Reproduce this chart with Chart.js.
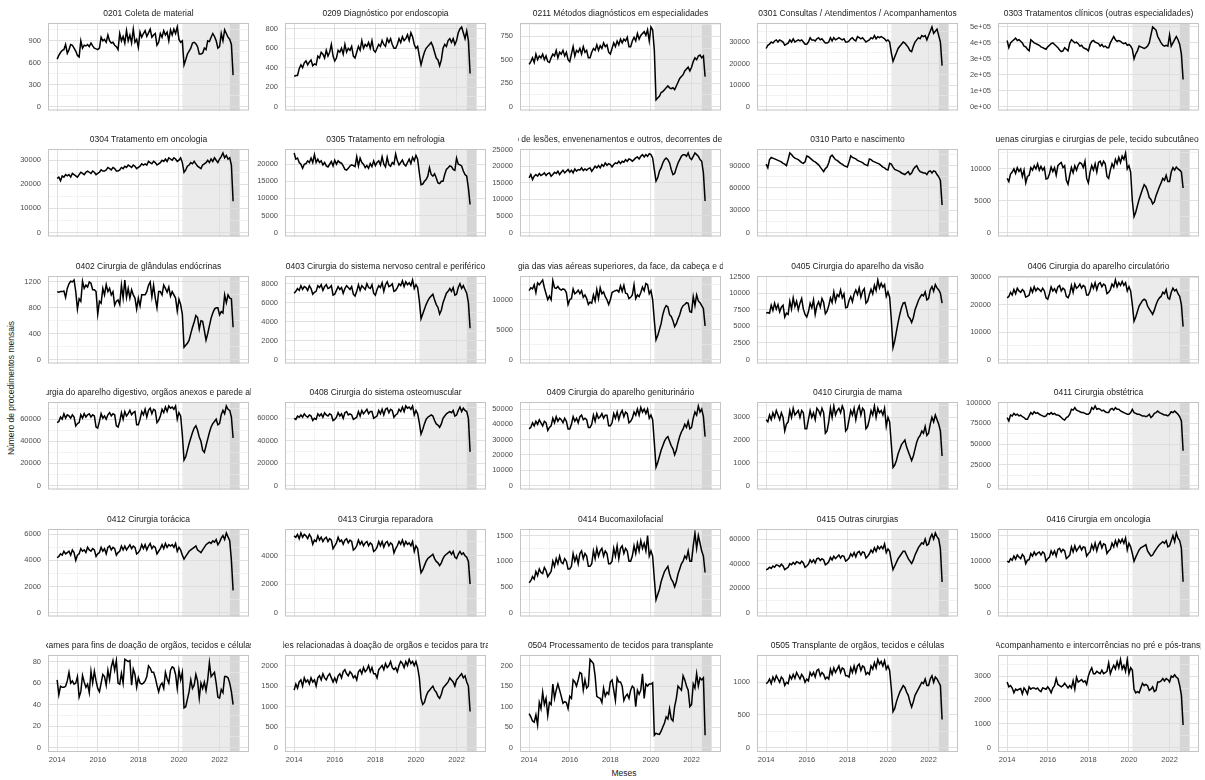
<!DOCTYPE html>
<html>
<head>
<meta charset="utf-8">
<script src="https://cdn.jsdelivr.net/npm/chart.js@4.4.1/dist/chart.umd.min.js"></script>
<style>
  body { margin: 0; width: 1205px; height: 780px; background: #fff; position: relative; overflow: hidden;
         font-family: "Liberation Sans", Arial, sans-serif; }
  .cell { position: absolute; }
  #ytitle { position: absolute; left: 11px; top: 388px; transform: translate(-50%, -50%) rotate(-90deg);
            font-size: 8.5px; color: #1a1a1a; white-space: nowrap; }
  #xtitle { position: absolute; left: 624px; top: 773px; transform: translate(-50%, -50%);
            font-size: 8.5px; color: #1a1a1a; white-space: nowrap; }
</style>
</head>
<body>
<div id="ytitle">Número de procedimentos mensais</div>
<div id="xtitle">Meses</div>
<script>
// monthly series, jan/2014 .. set/2022 (one row per year)
const s0201 = [
  650,700,740,770,780,850,730,780,850,840,800,760,
  700,680,900,800,840,830,850,820,870,830,800,790,
  780,800,950,900,920,880,980,900,870,880,840,820,
  780,1000,900,960,870,1040,900,980,870,1060,880,920,
  810,1020,950,1000,1040,960,1010,1060,950,980,1000,840,
  880,1000,950,1040,980,1020,900,1050,980,1060,1000,1090,
  920,880,900,570,640,720,760,800,870,880,860,820,
  720,720,730,800,780,900,890,950,1000,960,900,800,
  820,1000,900,1050,1000,950,920,850,430];
const s0209 = [
  310,320,320,390,430,400,450,470,430,460,480,420,
  440,430,520,500,560,540,500,580,520,560,640,520,
  470,500,580,560,600,540,640,560,600,580,620,520,
  500,560,620,580,680,600,640,620,660,600,680,580,
  560,600,640,620,680,640,620,700,660,700,640,600,
  600,640,700,660,720,680,700,740,680,760,720,640,
  600,620,520,430,500,560,600,620,640,660,620,560,
  500,480,420,480,600,640,620,680,700,660,700,640,
  680,760,800,820,760,700,780,680,340];
const s0211 = [
  450,480,520,470,560,500,540,520,560,500,540,480,
  470,520,560,540,600,520,580,560,600,540,580,500,
  480,560,640,540,600,580,620,560,640,580,600,520,
  520,580,620,600,660,600,650,620,680,640,660,580,
  560,620,680,640,700,660,720,680,720,700,740,640,
  640,700,740,700,780,720,760,780,800,760,820,700,
  850,820,600,70,90,110,150,160,180,200,220,200,
  190,200,180,220,260,300,320,340,380,400,420,380,
  420,480,520,500,540,550,520,540,320];
const s0301 = [
  27000,28500,29000,30000,29500,30500,31000,30000,31000,30500,30000,28500,
  29000,29500,31000,30000,31500,30000,30500,31000,30500,31000,30000,29000,
  29000,30000,32000,31000,31000,30500,31500,32000,31000,31500,30500,29500,
  29500,30000,32000,30500,32000,31000,31500,32000,31500,31000,31500,30000,
  30000,30500,31500,32000,31000,30500,32500,32000,31500,32000,31000,30000,
  30500,31000,32000,31500,33000,31500,32500,32000,32500,32000,31500,30500,
  31000,30000,25000,21000,23000,25000,27000,28000,29000,30000,29500,28500,
  27500,26000,25500,28000,30000,31000,32000,31500,33000,32500,33000,31000,
  33000,35000,37000,34000,35000,36000,33000,30000,19000];
const s0303 = [
  415000,370000,400000,410000,420000,430000,415000,420000,410000,400000,380000,375000,
  360000,350000,420000,410000,400000,395000,390000,385000,375000,370000,365000,360000,
  375000,385000,395000,400000,390000,380000,370000,355000,345000,350000,370000,360000,
  350000,400000,420000,410000,400000,405000,395000,380000,385000,370000,365000,360000,
  350000,390000,410000,415000,405000,400000,395000,380000,390000,375000,380000,370000,
  370000,400000,420000,440000,420000,410000,415000,410000,400000,395000,400000,385000,
  390000,380000,360000,300000,330000,350000,380000,375000,370000,365000,370000,380000,
  400000,450000,500000,490000,480000,440000,420000,400000,385000,380000,385000,380000,
  450000,380000,400000,420000,440000,420000,390000,330000,170000];
const s0304 = [
  22500,23000,21500,23500,23000,24000,23500,24000,23000,24500,24000,23500,
  23000,24000,25000,24500,24000,25000,25500,25000,24500,25500,25000,24000,
  24500,25000,26000,25500,25500,26000,27000,26500,26000,27000,26500,25500,
  25500,26000,27000,26500,27500,27000,28000,27500,27000,28000,27500,26500,
  27000,27500,28500,28000,28500,28000,29500,29000,28500,29500,29000,28000,
  28500,29000,30000,29500,30500,29500,31000,30500,30000,31000,30500,29500,
  30000,31000,29000,25000,26000,27500,28000,29000,28500,29500,28500,27500,
  27000,26500,28000,28500,29000,30000,29000,30500,29500,31000,30000,29000,
  30500,31500,33000,31000,32000,30500,31000,28000,13000];
const s0305 = [
  23300,21500,21800,20500,20000,18800,20000,20200,21000,20500,21800,20500,
  22800,20500,21500,20500,21000,19800,20500,19500,19200,20000,20800,19500,
  21200,20000,21000,20500,20300,19500,18500,18300,18800,19500,19800,19600,
  19300,22200,19500,21800,20500,20000,19000,19600,18800,20200,19300,21000,
  19600,20500,21000,19800,22200,20000,19200,22000,19800,19400,20500,20000,
  23000,21000,19800,20500,21200,20000,19500,20500,21500,20200,22000,21000,
  22600,21500,17500,14000,14200,15000,15500,16500,19000,17000,16500,17200,
  16000,14500,14300,15000,15000,17000,18500,19000,19500,19300,18500,18200,
  21800,20000,19800,19500,18000,17000,16500,13000,8200];
const s0308 = [
  16500,17500,16000,17000,17500,17000,17800,17200,17500,18000,17200,17800,
  18000,17000,17500,18200,17800,18500,17500,18200,18800,18000,18500,19000,
  18200,18800,18000,19200,18500,19000,18800,19500,18700,19200,18800,19300,
  19500,18500,19200,20000,19500,20200,19500,20500,20000,21000,20300,20800,
  20500,19800,20500,21000,20800,21500,20800,21500,21200,22000,21500,22200,
  22000,21500,22000,22500,22800,22200,23000,23500,22800,23500,23000,23800,
  23500,22500,19000,15500,16500,18500,19500,21000,22000,22500,22000,21000,
  19000,17500,17800,19500,21000,22000,23000,23500,23500,23000,24000,22500,
  22000,23000,24000,23500,23000,22000,21500,18000,9500];
const s0310 = [
  92000,87000,98000,101000,100000,99000,98000,97000,96000,95000,93000,92000,
  90000,98000,107000,105000,102000,100000,99000,98000,96000,94000,93000,95000,
  103000,102000,100000,98000,96000,95000,93000,91000,88000,85000,82000,86000,
  88000,94000,102000,104000,101000,98000,97000,95000,93000,92000,90000,89000,
  88000,95000,103000,101000,100000,99000,97000,96000,95000,94000,92000,91000,
  90000,99000,98000,96000,95000,94000,93000,92000,90000,88000,87000,85000,
  84000,93000,92000,88000,85000,84000,83000,82000,80000,79000,78000,80000,
  82000,78000,80000,85000,88000,90000,85000,82000,81000,80000,80000,78000,
  82000,83000,80000,83000,82000,78000,75000,70000,37000];
const s0401 = [
  8500,8000,9200,9500,10000,9300,10200,9600,10000,8800,9800,7800,
  8800,9000,10200,9800,10500,10000,10800,9800,10400,9800,10200,8400,
  8500,9200,10300,9600,10200,9000,10500,10800,11000,10200,10500,8200,
  7600,9000,10200,9400,10500,9800,10600,11000,10800,10200,11200,8500,
  7800,9500,10500,9800,10800,9500,11000,11200,10500,11200,10800,8800,
  8500,9800,10800,10200,11500,10800,11800,11000,12000,11500,12500,10000,
  10500,9500,5000,2500,3200,4200,5200,6000,6800,7500,7200,6500,
  5500,5200,4500,4800,5800,6500,7200,7800,8500,8200,9000,8000,
  8000,9500,10200,9800,10300,10000,9800,9500,7000];
const s0402 = [
  1050,1040,1050,1050,1060,960,1100,1170,1210,1200,1230,1050,
  780,940,900,1210,1100,1150,1120,1200,1180,1080,1080,1050,
  700,900,870,1100,1000,1160,1050,1100,1000,1050,840,900,
  920,850,1150,950,1230,960,1100,950,1080,1000,950,780,
  950,830,1000,1000,1000,1050,1150,1200,970,1150,950,800,
  1050,1050,1000,1150,1100,1040,1120,980,1050,1000,950,750,
  930,850,700,190,220,250,300,400,500,580,680,650,
  470,600,590,450,300,400,520,640,720,780,800,800,
  690,740,720,1000,880,1000,950,940,500];
const s0403 = [
  7000,7200,7500,7300,7800,7400,7700,7600,7300,7800,7500,6900,
  7100,7200,7800,7600,7900,7300,7700,7900,7500,7600,7800,6800,
  6900,7300,7700,7400,7600,7000,7500,7800,7600,7400,7700,6900,
  6700,7200,7900,7300,7800,7600,7400,8000,7600,7500,7900,7000,
  6800,7400,7800,7600,8100,7200,7900,8200,7700,7800,8000,7200,
  7300,7600,8000,7800,8300,7700,8200,7900,8100,7800,8400,7500,
  7900,7600,6200,4300,4800,5300,5800,6200,6500,6700,6900,6300,
  5800,5500,4800,5200,6000,6500,7000,7200,7500,7200,7600,6800,
  6900,7600,8000,7500,7800,7400,7000,6000,3300];
const s0404 = [
  11500,12000,11800,12500,11200,12800,12500,12900,13300,12000,11000,10000,
  10600,10000,13200,12000,11900,12200,11800,11600,11800,11700,11200,9200,
  10000,10200,11800,11000,11200,11600,11000,11500,10400,10800,10200,9200,
  9600,9400,10800,9800,11700,10200,12000,11000,11300,10500,10000,9200,
  10000,11200,11400,11500,11600,11300,12300,11400,12400,11100,11000,10200,
  10400,10800,12500,10200,10800,10500,11200,12100,11500,12700,12500,11000,
  11500,10000,6500,3300,4000,5000,6000,7500,8500,9000,8800,7500,
  7200,6500,5500,6000,6800,7500,8500,9000,9200,9500,9400,8000,
  7900,10500,9000,10800,9800,9500,9000,8500,5600];
const s0405 = [
  7000,7100,7000,8200,7400,8500,7600,8300,7200,7900,8200,6400,
  7000,6800,8800,7600,9300,8000,8800,7500,8500,9200,7600,6800,
  6400,7200,8500,7800,9000,6800,8100,8700,7900,9200,8600,6900,
  7300,8100,9300,8600,10200,8800,9800,9500,10500,9300,9900,7800,
  7900,8900,9500,8700,9900,10500,9800,10800,9400,10300,10700,8500,
  8800,9800,10600,9900,11200,10400,12000,10800,11500,10900,11300,9500,
  10200,9400,6000,1800,2800,4200,5600,6800,7800,8500,8600,7600,
  6500,6200,5600,6300,7500,8200,8900,9400,9800,9600,10200,9000,
  9200,10500,11000,10300,11300,10800,10500,10000,8500];
const s0406 = [
  22500,23000,24500,23500,25500,24000,26000,25000,24500,25500,24800,22800,
  23000,23500,26000,24500,26500,25000,26000,25500,24800,26000,25000,22500,
  22000,24000,26500,25000,25800,24500,26500,27000,25000,26000,25500,23000,
  22500,24000,27000,24500,27500,26000,26500,27500,26000,27000,26500,23500,
  23500,25000,27500,26000,28000,25500,27500,28000,26500,27500,27000,24000,
  24500,25500,27500,26500,29000,26500,28000,27000,28500,27000,28000,25000,
  26500,25000,20000,14000,15500,17500,19500,20500,21500,22000,21500,19500,
  18500,17500,16500,18000,20000,21500,22500,23000,24500,24000,25500,22500,
  22000,24500,26000,25000,25500,24000,23000,20000,12000];
const s0407 = [
  57000,58000,62000,60000,65000,61000,64000,63000,61000,64000,62000,54000,
  56000,57000,64000,61000,65000,62000,64000,65000,62000,64000,63000,53000,
  52000,58000,65000,61000,63000,60000,64000,66000,63000,65000,64000,54000,
  53000,58000,66000,60000,67000,63000,65000,68000,64000,66000,67000,55000,
  55000,60000,67000,64000,69000,62000,68000,70000,65000,69000,68000,57000,
  59000,63000,69000,66000,71000,67000,72000,70000,71000,69000,72000,60000,
  66000,63000,46000,23000,26000,32000,38000,43000,48000,52000,54000,50000,
  44000,40000,32000,30000,36000,42000,48000,53000,56000,58000,60000,55000,
  56000,64000,68000,65000,72000,69000,68000,62000,43000];
const s0408 = [
  60000,59000,62000,61000,63000,61000,64000,62000,61000,63000,62000,58000,
  60000,59000,64000,62000,64000,61000,65000,63000,62000,64000,63000,58000,
  59000,61000,65000,62000,64000,60000,65000,66000,63000,64000,63000,59000,
  60000,61000,66000,62000,67000,64000,66000,68000,64000,66000,66000,60000,
  61000,62000,67000,64000,68000,63000,68000,69000,65000,68000,67000,61000,
  63000,64000,68000,66000,70000,66000,71000,69000,70000,68000,71000,63000,
  67000,64000,56000,46000,50000,55000,59000,61000,62000,63000,62000,58000,
  55000,54000,52000,55000,60000,62000,64000,65000,66000,65000,67000,62000,
  63000,67000,70000,66000,69000,67000,66000,60000,30000];
const s0409 = [
  37000,38000,41000,39000,42000,40000,43000,41000,39000,42000,41000,36000,
  38000,39000,44000,41000,45000,42000,44000,43000,41000,44000,42000,37000,
  37000,40000,45000,42000,44000,41000,45000,46000,43000,44000,43000,38000,
  38000,40000,46000,42000,47000,44000,45000,47000,44000,46000,46000,39000,
  39000,41000,47000,44000,48000,43000,47000,49000,45000,48000,47000,41000,
  42000,44000,48000,46000,50000,46000,51000,48000,50000,47000,50000,44000,
  46000,43000,28000,12000,15000,19000,23000,26000,29000,31000,32000,29000,
  26000,24000,20000,23000,28000,32000,35000,37000,40000,38000,42000,37000,
  38000,44000,48000,46000,52000,48000,50000,45000,32000];
const s0410 = [
  2900,2800,3100,2900,3200,3000,3300,3100,2900,3200,3000,2400,
  2700,2800,3300,3000,3400,3100,3200,3300,3000,3300,3200,2500,
  2500,2900,3300,3000,3200,2900,3400,3300,3100,3400,3200,2300,
  2400,2800,3400,3000,3500,3100,3300,3400,3200,3500,3300,2400,
  2500,2900,3300,3100,3400,2900,3300,3500,3100,3400,3300,2500,
  2600,2900,3300,3100,3500,3000,3400,3200,3300,3100,3400,2600,
  3000,2800,1800,800,900,1100,1400,1600,1800,1900,2000,1700,
  1500,1300,1100,1300,1600,1900,2100,2200,2400,2300,2600,2200,
  2300,2700,3000,2800,3100,2900,2700,2400,1300];
const s0411 = [
  82000,78000,85000,84000,87000,85000,86000,84000,85000,83000,82000,80000,
  80000,84000,88000,86000,89000,87000,88000,86000,85000,84000,83000,84000,
  87000,86000,88000,86000,87000,85000,85000,84000,82000,80000,79000,82000,
  83000,86000,92000,91000,94000,91000,90000,89000,88000,88000,87000,86000,
  86000,88000,94000,92000,96000,92000,93000,92000,90000,91000,89000,88000,
  88000,92000,93000,91000,94000,92000,92000,90000,89000,88000,87000,86000,
  86000,88000,92000,88000,87000,86000,86000,85000,84000,84000,83000,84000,
  86000,82000,84000,87000,88000,90000,88000,87000,86000,85000,85000,84000,
  86000,89000,88000,90000,88000,86000,83000,78000,42000];
const s0412 = [
  4200,4300,4500,4400,4700,4500,4600,4700,4400,4800,4600,4000,
  4400,4500,4900,4700,4800,4600,5000,4800,4700,4900,4800,4300,
  4500,4600,5000,4700,4900,4500,5000,5100,4800,5000,4900,4400,
  4600,4700,5100,4800,5100,4800,5000,5200,4900,5100,5000,4500,
  4600,4800,5200,4900,5200,4800,5100,5300,4900,5100,5000,4500,
  4700,4900,5200,4900,5300,5000,5200,5100,5200,5000,5300,4700,
  5000,4800,4400,4100,4300,4500,4700,4800,4900,5000,5100,4800,
  4700,4600,4800,5000,5200,5300,5400,5300,5500,5400,5600,5200,
  5400,5700,5900,5600,6100,5800,5500,4000,1700];
const s0413 = [
  5400,5300,5500,5200,5600,5300,5500,5400,5200,5500,5300,4800,
  5100,5000,5400,5100,5300,5000,5200,5300,5000,5200,5100,4500,
  4700,4900,5300,5000,5100,4800,5100,5200,4900,5100,5000,4400,
  4500,4700,5100,4800,5000,4700,4900,5000,4700,4900,4800,4300,
  4400,4600,5000,4700,5000,4600,4900,5000,4700,4900,4800,4200,
  4500,4700,5000,4800,5100,4700,5000,4800,4900,4700,5000,4300,
  4700,4500,3600,2800,3000,3300,3600,3800,3900,4000,4100,3800,
  3600,3500,3300,3500,3800,4000,4100,4200,4300,4100,4300,3900,
  3800,4100,4300,4100,4200,4000,3900,3600,2000];
const s0414 = [
  580,620,700,650,800,720,850,780,760,880,820,700,
  750,800,1000,900,1050,950,1100,980,950,1050,1000,850,
  850,900,1150,1000,1100,950,1150,1200,1050,1150,1100,900,
  900,950,1200,1050,1250,1100,1200,1250,1100,1200,1150,950,
  950,1000,1250,1100,1300,1050,1250,1300,1150,1250,1200,1000,
  1000,1100,1300,1150,1350,1200,1400,1250,1350,1200,1500,1100,
  1200,1100,650,250,350,450,600,700,800,850,900,750,
  650,600,500,600,750,850,950,1000,1100,1050,1200,1000,
  1000,1300,1550,1250,1500,1350,1200,1100,780];
const s0415 = [
  35000,35500,37000,36000,38000,37000,39000,38500,37500,39500,38000,35000,
  36000,37000,40000,39000,41000,39500,41500,41000,40000,42000,40500,37000,
  38000,39500,43000,41000,43000,40500,44000,44500,42500,44000,43000,39000,
  40000,41500,45000,43000,46000,44000,45500,47000,44500,46500,46000,42000,
  43000,44500,48000,46000,49000,45500,49000,50000,47000,49500,49000,44500,
  46000,48000,51000,49000,53000,50000,54000,52000,54000,52000,56000,49000,
  52000,50000,42000,35000,38000,41000,44000,46000,48000,50000,50000,47000,
  44000,42000,40000,43000,47000,50000,53000,55000,57000,56000,60000,55000,
  56000,61000,64000,60000,65000,62000,60000,52000,25000];
const s0416 = [
  10000,9800,10500,10200,11000,10400,11200,10800,10500,11300,10900,9500,
  10200,10300,11500,11000,11800,11200,11600,11800,11200,11800,11500,10000,
  10500,10800,12000,11300,12000,11000,12300,12500,11800,12300,12000,10500,
  10800,11200,12800,11800,13000,12000,12500,13000,12200,12800,12700,11000,
  11500,11800,13200,12300,13500,12000,13200,13800,12600,13400,13200,11500,
  12000,12300,13500,12800,14000,13000,14200,13600,14300,13500,14500,12200,
  13500,12800,11500,10000,10800,11500,12200,12600,12800,13000,13200,12000,
  11500,11000,11200,11800,12300,12800,13200,13500,13800,13500,14000,12800,
  13000,14000,15000,13800,15500,14500,14000,12500,6000];
const s0501 = [
  63,49,57,56,56,57,62,70,60,62,59,60,
  66,47,52,67,61,56,59,51,71,60,71,62,
  55,52,60,68,66,58,72,63,75,81,72,81,
  60,59,69,60,82,81,80,81,58,73,68,56,
  65,60,59,60,62,66,76,74,70,70,65,58,
  52,58,60,55,70,64,60,72,75,74,68,55,
  72,63,70,37,38,45,52,63,55,58,68,62,
  46,60,55,61,53,63,79,66,68,70,60,47,
  46,54,51,66,66,65,60,52,40];
const s0503 = [
  1400,1550,1450,1600,1650,1500,1700,1600,1650,1550,1700,1600,
  1650,1500,1700,1750,1650,1800,1700,1650,1750,1800,1700,1600,
  1700,1600,1750,1800,1700,1850,1900,1800,1750,1850,1800,1700,
  1750,1650,1850,1900,1800,1950,1850,1900,2000,1850,1950,1800,
  1800,1700,1900,1950,2000,1900,2050,1950,2000,2100,1950,1900,
  1950,1850,2000,2100,2050,1950,2100,2000,2150,2050,2100,2000,
  2100,1950,1700,1200,1050,1100,1250,1350,1400,1450,1500,1400,
  1350,1250,1200,1300,1450,1500,1550,1600,1700,1650,1600,1500,
  1650,1700,1750,1800,1700,1750,1600,1500,880];
const s0504 = [
  83,75,65,62,80,55,110,95,135,105,120,78,
  110,105,155,120,140,155,140,125,108,112,110,95,
  125,120,165,160,150,165,183,180,140,165,145,150,
  215,210,205,175,125,122,120,110,145,125,135,130,
  160,165,140,115,170,160,160,150,115,125,130,120,
  140,150,145,100,140,130,140,180,120,155,150,155,
  155,158,30,35,33,32,40,50,60,75,70,95,
  70,65,100,120,150,145,140,175,165,150,140,100,
  105,155,145,180,150,170,165,170,30];
const s0505 = [
  980,1000,1050,980,1080,1020,1100,1050,1000,1080,1050,950,
  1000,980,1100,1050,1120,1060,1150,1100,1050,1120,1080,1000,
  1050,1020,1150,1100,1150,1080,1180,1200,1100,1150,1120,1050,
  1080,1050,1200,1120,1220,1150,1200,1250,1150,1220,1200,1100,
  1100,1080,1220,1150,1250,1150,1250,1280,1180,1250,1230,1120,
  1150,1120,1250,1200,1300,1220,1350,1280,1320,1250,1330,1200,
  1250,1180,900,550,600,700,780,850,900,950,920,850,
  800,700,620,700,800,850,900,950,1000,980,1050,950,
  950,1050,1100,1000,1080,1050,1000,950,430];
const s0506 = [
  2750,2550,2600,2500,2300,2450,2400,2450,2480,2250,2500,2400,
  2250,2550,2450,2500,2500,2450,2500,2400,2350,2500,2480,2450,
  2550,2450,2300,2500,2600,2900,2650,2600,2550,2600,2700,2600,
  2500,2600,2500,2800,2450,2950,2750,2800,2850,2750,2800,2650,
  3000,3200,3350,3100,3100,3200,3150,3100,3250,3100,3150,3200,
  3550,3100,3300,3450,3300,3600,3350,3700,3300,3450,3200,3700,
  3100,3350,3250,2450,2300,2350,2300,2500,2700,2600,2650,2600,
  2400,2450,2550,2350,2400,2750,2750,2800,2900,2800,2900,2850,
  2750,3000,2950,3050,2950,2900,2600,2200,950];

const seriesList = [
  s0201, s0209, s0211, s0301, s0303,
  s0304, s0305, s0308, s0310, s0401,
  s0402, s0403, s0404, s0405, s0406,
  s0407, s0408, s0409, s0410, s0411,
  s0412, s0413, s0414, s0415, s0416,
  s0501, s0503, s0504, s0505, s0506
];

const titles = [
  '0201 Coleta de material',
  '0209 Diagnóstico por endoscopia',
  '0211 Métodos diagnósticos em especialidades',
  '0301 Consultas / Atendimentos / Acompanhamentos',
  '0303 Tratamentos clínicos (outras especialidades)',
  '0304 Tratamento em oncologia',
  '0305 Tratamento em nefrologia',
  '0308 Tratamento de lesões, envenenamentos e outros, decorrentes de causas externas',
  '0310 Parto e nascimento',
  '0401 Pequenas cirurgias e cirurgias de pele, tecido subcutâneo e mucosa',
  '0402 Cirurgia de glândulas endócrinas',
  '0403 Cirurgia do sistema nervoso central e periférico',
  '0404 Cirurgia das vias aéreas superiores, da face, da cabeça e do pescoço',
  '0405 Cirurgia do aparelho da visão',
  '0406 Cirurgia do aparelho circulatório',
  '0407 Cirurgia do aparelho digestivo, orgãos anexos e parede abdominal',
  '0408 Cirurgia do sistema osteomuscular',
  '0409 Cirurgia do aparelho geniturinário',
  '0410 Cirurgia de mama',
  '0411 Cirurgia obstétrica',
  '0412 Cirurgia torácica',
  '0413 Cirurgia reparadora',
  '0414 Bucomaxilofacial',
  '0415 Outras cirurgias',
  '0416 Cirurgia em oncologia',
  '0501 Coleta de exames para fins de doação de orgãos, tecidos e células e de transplante',
  '0503 Ações relacionadas à doação de orgãos e tecidos para transplante',
  '0504 Processamento de tecidos para transplante',
  '0505 Transplante de orgãos, tecidos e células',
  '0506 Acompanhamento e intercorrências no pré e pós-transplante'
];

// labelled y breaks per panel
const yTicks = [
  [0, 300, 600, 900], [0, 200, 400, 600, 800], [0, 250, 500, 750], [0, 10000, 20000, 30000], [0, 1e5, 2e5, 3e5, 4e5, 5e5],
  [0, 10000, 20000, 30000], [0, 5000, 10000, 15000, 20000], [0, 5000, 10000, 15000, 20000, 25000], [0, 30000, 60000, 90000], [0, 5000, 10000],
  [0, 400, 800, 1200], [0, 2000, 4000, 6000, 8000], [0, 5000, 10000], [0, 2500, 5000, 7500, 10000, 12500], [0, 10000, 20000, 30000],
  [0, 20000, 40000, 60000], [0, 20000, 40000, 60000], [0, 10000, 20000, 30000, 40000, 50000], [0, 1000, 2000, 3000], [0, 25000, 50000, 75000, 100000],
  [0, 2000, 4000, 6000], [0, 2000, 4000], [0, 500, 1000, 1500], [0, 20000, 40000, 60000], [0, 5000, 10000, 15000],
  [0, 20, 40, 60, 80], [0, 500, 1000, 1500, 2000], [0, 50, 100, 150, 200], [0, 500, 1000], [0, 1000, 2000, 3000]
];
const sciPanels = ['0303'];

const xYears = [2014, 2015, 2016, 2017, 2018, 2019, 2020, 2021, 2022, 2023];
const xLabelled = [2014, 2016, 2018, 2020, 2022];
const pandemicSpan = [2020 + 2 / 12, 2022.5];
const recentSpan = [2022.5, 2023];

const START_YEAR = 2014;
const X_MIN = 2013.55, X_MAX = 2023.45;

// page geometry
const colLeft = [48, 285, 520, 757, 998];
const rowTop = [23, 149, 276, 402, 529, 655];
const PLOT_W = 201, PLOT_H = 97;
const AX = 44, TT = 20, RP = 6;

const FONT = '"Liberation Sans", Arial, sans-serif';
const GRID_MAJOR = '#dcdcdc', GRID_MINOR = '#ebebeb';
Chart.defaults.font.family = FONT;

function sciLabel(v) {
  if (v === 0) return '0e+00';
  const e = Math.floor(Math.log10(v));
  return (v / Math.pow(10, e)) + 'e+' + String(e).padStart(2, '0');
}

const shadePlugin = {
  id: 'shade',
  beforeDraw(chart) {
    const { ctx, chartArea: a, scales: { x } } = chart;
    ctx.save();
    ctx.fillStyle = '#ebebeb';
    let l = x.getPixelForValue(pandemicSpan[0]), r = x.getPixelForValue(pandemicSpan[1]);
    ctx.fillRect(l, a.top, r - l, a.height);
    ctx.fillStyle = '#d6d6d6';
    l = x.getPixelForValue(recentSpan[0]); r = x.getPixelForValue(recentSpan[1]);
    ctx.fillRect(l, a.top, r - l, a.height);
    ctx.restore();
  }
};

const framePlugin = {
  id: 'frame',
  afterDatasetsDraw(chart) {
    const { ctx, chartArea: a } = chart;
    ctx.save();
    ctx.strokeStyle = '#c4c4c4';
    ctx.lineWidth = 1;
    ctx.strokeRect(a.left + 0.5, a.top + 0.5, a.width - 1, a.height - 1);
    ctx.restore();
  }
};

// strip title, clipped to the panel width like the facet strips
const stripPlugin = {
  id: 'strip',
  afterDraw(chart, args, opts) {
    const { ctx, chartArea: a } = chart;
    ctx.save();
    ctx.beginPath();
    ctx.rect(a.left - 2, 0, a.width + 4, a.top);
    ctx.clip();
    ctx.font = '8.5px ' + FONT;
    ctx.fillStyle = '#1a1a1a';
    ctx.textAlign = 'center';
    ctx.textBaseline = 'middle';
    ctx.fillText(opts.text, (a.left + a.right) / 2, a.top - 9.5);
    ctx.restore();
  }
};

function buildPanel(idx) {
  const r = Math.floor(idx / 5), c = idx % 5;
  const vals = seriesList[idx];
  const majors = yTicks[idx];
  const code = titles[idx].slice(0, 4);
  const isBottom = r === 5;
  const bottomSpace = isBottom ? 15 : 2;

  const yMax = Math.max(...vals);
  const yMin = -0.05 * yMax, yTop = 1.05 * yMax;
  const step = majors[1] - majors[0];
  const minors = majors.map(v => v + step / 2).filter(v => v < yTop);
  const yAll = majors.concat(minors).sort((a, b) => a - b);

  const w = AX + PLOT_W + RP, h = TT + PLOT_H + bottomSpace;
  const holder = document.createElement('div');
  holder.className = 'cell';
  holder.style.left = (colLeft[c] - AX) + 'px';
  holder.style.top = (rowTop[r] - TT) + 'px';
  const canvas = document.createElement('canvas');
  canvas.width = w; canvas.height = h;
  canvas.style.width = w + 'px'; canvas.style.height = h + 'px';
  holder.appendChild(canvas);
  document.body.appendChild(holder);

  new Chart(canvas, {
    type: 'line',
    data: {
      datasets: [{
        data: vals.map((v, i) => ({ x: START_YEAR + i / 12, y: v })),
        borderColor: '#000',
        borderWidth: 1.5,
        pointRadius: 0,
        tension: 0,
        fill: false
      }]
    },
    options: {
      responsive: false,
      animation: false,
      devicePixelRatio: 1,
      layout: { padding: { top: TT, left: 0, right: RP, bottom: 0 } },
      plugins: {
        legend: { display: false },
        tooltip: { enabled: false },
        strip: { text: titles[idx] }
      },
      scales: {
        x: {
          type: 'linear',
          min: X_MIN,
          max: X_MAX,
          afterBuildTicks: s => { s.ticks = xYears.map(v => ({ value: v })); },
          afterFit: s => { s.height = bottomSpace; },
          border: { display: false },
          grid: {
            drawTicks: false,
            color: ctx => xLabelled.includes(ctx.tick.value) ? GRID_MAJOR : GRID_MINOR,
            lineWidth: ctx => xLabelled.includes(ctx.tick.value) ? 0.9 : 0.6
          },
          ticks: {
            display: isBottom,
            autoSkip: false,
            maxRotation: 0,
            padding: 3,
            color: '#4d4d4d',
            font: { size: 7.5 },
            callback: v => xLabelled.includes(v) ? String(v) : ''
          }
        },
        y: {
          min: yMin,
          max: yTop,
          afterBuildTicks: s => { s.ticks = yAll.map(v => ({ value: v })); },
          afterFit: s => { s.width = AX; },
          border: { display: false },
          grid: {
            drawTicks: false,
            color: ctx => majors.includes(ctx.tick.value) ? GRID_MAJOR : GRID_MINOR,
            lineWidth: ctx => majors.includes(ctx.tick.value) ? 0.9 : 0.6
          },
          ticks: {
            padding: 7,
            color: '#4d4d4d',
            font: { size: 7.5 },
            callback: v => majors.includes(v) ? (sciPanels.includes(code) ? sciLabel(v) : String(v)) : ''
          }
        }
      }
    },
    plugins: [shadePlugin, framePlugin, stripPlugin]
  });
}

for (let i = 0; i < seriesList.length; i++) buildPanel(i);
</script>
</body>
</html>
